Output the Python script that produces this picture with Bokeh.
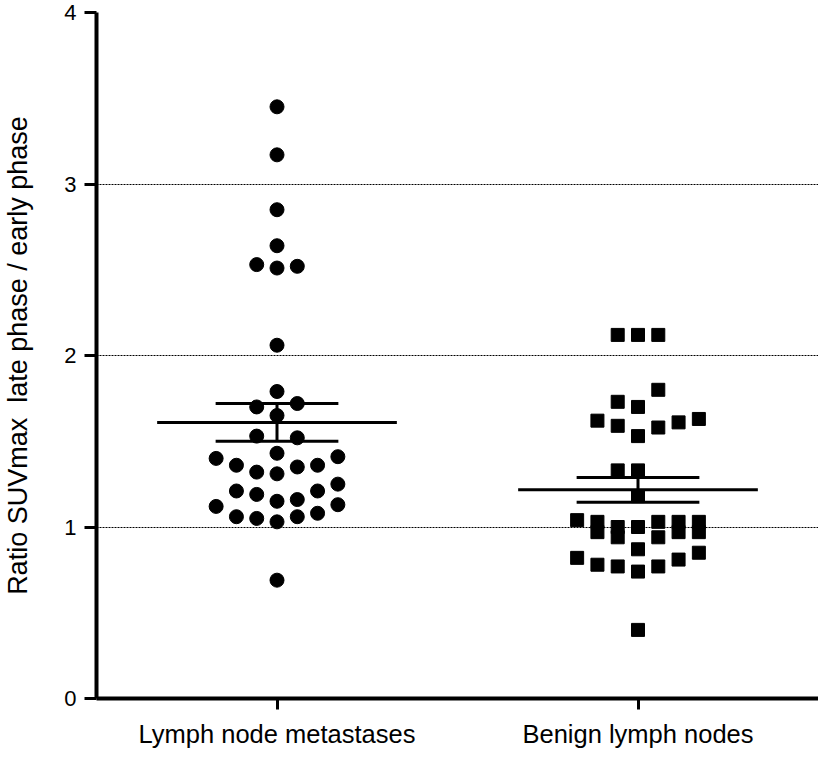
import numpy as np
from bokeh.plotting import figure
from bokeh.models import FixedTicker, ColumnDataSource
from bokeh.embed import file_html
from bokeh.resources import INLINE

# ---- data ----
categories = ["Lymph node metastases", "Benign lymph nodes"]
group_pos = [1, 2]

metastases_values = [3.45, 3.17, 2.85, 2.64, 2.53, 2.51, 2.52, 2.06, 1.79, 1.70, 1.72, 1.65,
                     1.53, 1.52, 1.43, 1.40, 1.36, 1.32, 1.31, 1.35, 1.36, 1.41, 1.21, 1.19,
                     1.15, 1.16, 1.21, 1.25, 1.12, 1.06, 1.05, 1.03, 1.06, 1.08, 1.13, 0.69]
metastases_slots = [0, 0, 0, 0, -1, 0, 1, 0, 0, -1, 1, 0,
                    -1, 1, 0, -3, -2, -1, 0, 1, 2, 3, -2, -1,
                    0, 1, 2, 3, -3, -2, -1, 0, 1, 2, 3, 0]

benign_values = [2.12, 2.12, 2.12, 1.80, 1.73, 1.70, 1.62, 1.59, 1.53, 1.58, 1.61, 1.63,
                 1.33, 1.33, 1.18, 1.04, 0.82, 1.03, 0.97, 0.78, 1.00, 0.94, 0.77, 1.00,
                 0.87, 0.74, 0.40, 1.03, 0.94, 0.77, 1.03, 0.97, 0.81, 1.03, 0.97, 0.85]
benign_slots = [-1, 0, 1, 1, -1, 0, -2, -1, 0, 1, 2, 3,
                -1, 0, 0, -3, -3, -2, -2, -2, -1, -1, -1, 0,
                0, 0, 0, 1, 1, 1, 2, 2, 2, 3, 3, 3]

mean_values = [1.61, 1.217]
sem_values = [0.11, 0.072]

y_ticks = [0, 1, 2, 3, 4]

# ---- layout constants ----
SLOT_W = 0.0562
MEAN_HALF = 0.332
CAP_HALF = 0.17
FONT = "Liberation Sans"

p = figure(width=818, height=750, x_range=(0.5, 2.5), y_range=(0, 4),
           output_backend="svg", toolbar_location=None,
           min_border_left=89, min_border_right=0, min_border_top=12, min_border_bottom=45)
p.outline_line_color = None
p.background_fill_color = "white"
p.border_fill_color = "white"

# grid
p.xgrid.grid_line_color = None
p.ygrid.grid_line_color = "black"
p.ygrid.grid_line_width = 1
p.ygrid.grid_line_dash = "2 1"
p.ygrid.ticker = FixedTicker(ticks=y_ticks)

# axes
p.yaxis.ticker = FixedTicker(ticks=y_ticks)
p.xaxis.ticker = FixedTicker(ticks=group_pos)
p.xaxis.major_label_overrides = {g: c for g, c in zip(group_pos, categories)}
for ax in (p.xaxis[0], p.yaxis[0]):
    ax.axis_line_width = 4
    ax.axis_line_color = "black"
    ax.major_tick_line_width = 3
    ax.major_tick_line_color = "black"
    ax.major_tick_in = 0
    ax.minor_tick_line_color = None
    ax.major_label_text_font = FONT
    ax.major_label_text_color = "black"
p.yaxis.major_tick_out = 12
p.xaxis.major_tick_out = 11
p.yaxis.major_label_text_font_size = "22px"
p.yaxis.major_label_standoff = 8
p.xaxis.major_label_text_font_size = "25.5px"
p.xaxis.major_label_standoff = 10
p.yaxis.axis_label = "Ratio SUVmax\u00a0 late phase / early phase"
p.yaxis.axis_label_text_font = FONT
p.yaxis.axis_label_text_font_size = "27px"
p.yaxis.axis_label_text_font_style = "normal"
p.yaxis.axis_label_text_color = "black"
p.yaxis.axis_label_standoff = 28

# points
mx = group_pos[0] + np.array(metastases_slots) * SLOT_W
bx = group_pos[1] + np.array(benign_slots) * SLOT_W
p.scatter(mx, metastases_values, marker="circle", size=14, color="black")
p.scatter(bx, benign_values, marker="square", size=13, color="black")

# mean and SEM
g = np.array(group_pos, dtype=float)
m = np.array(mean_values)
s = np.array(sem_values)
src = ColumnDataSource(dict(
    x0=g - MEAN_HALF, x1=g + MEAN_HALF, cx0=g - CAP_HALF, cx1=g + CAP_HALF,
    g=g, m=m, lo=m - s, hi=m + s))
p.segment(x0="x0", y0="m", x1="x1", y1="m", source=src, line_width=3, line_color="black")
p.segment(x0="cx0", y0="hi", x1="cx1", y1="hi", source=src, line_width=3, line_color="black")
p.segment(x0="cx0", y0="lo", x1="cx1", y1="lo", source=src, line_width=3, line_color="black")
p.segment(x0="g", y0="lo", x1="g", y1="hi", source=src, line_width=3, line_color="black")

open("out.html", "w").write(file_html(p, INLINE))
